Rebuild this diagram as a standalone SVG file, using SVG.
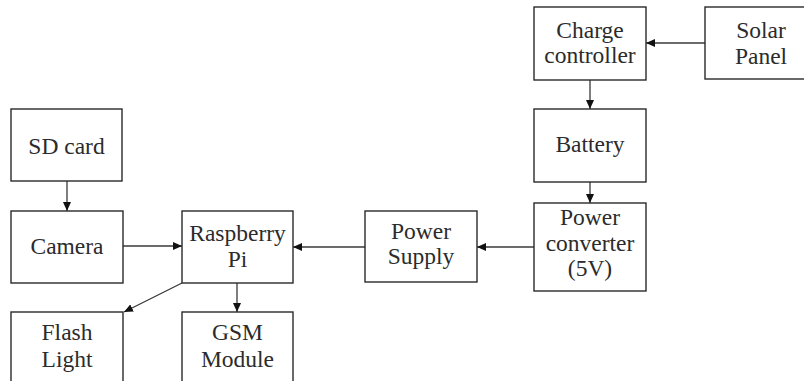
<svg xmlns="http://www.w3.org/2000/svg" width="804" height="381" viewBox="0 0 804 381">
<style>
.box{fill:#fff;stroke:#2a2a2a;stroke-width:1.4}
.t{font-family:'Liberation Serif','Times New Roman','DejaVu Serif',serif;font-size:23.5px;fill:#2b2b2b;text-anchor:middle}
.c{stroke:#3a3a3a;stroke-width:1.3;fill:none;marker-end:url(#ah)}
</style>
<defs>
<marker id="ah" markerUnits="userSpaceOnUse" markerWidth="10" markerHeight="8" refX="9" refY="4" orient="auto">
<path d="M0,0 L9,4 L0,8 z" fill="#111"/>
</marker>
</defs>
<rect width="804" height="381" fill="#fff"/>
<g id="connectors">
<line class="c" x1="67" y1="181" x2="67" y2="211"/>
<line class="c" x1="123" y1="246" x2="182" y2="246"/>
<line class="c" x1="237" y1="283" x2="237" y2="312"/>
<line class="c" x1="182" y1="283" x2="124" y2="312"/>
<line class="c" x1="365" y1="247" x2="293" y2="247"/>
<line class="c" x1="534" y1="247" x2="477" y2="247"/>
<line class="c" x1="705" y1="43" x2="646" y2="43"/>
<line class="c" x1="590" y1="80" x2="590" y2="109"/>
<line class="c" x1="590" y1="182" x2="590" y2="203"/>
</g>
<g id="sdcard"><rect class="box" x="11" y="109" width="111" height="72"/><text class="t" x="66.5" y="153.5">SD card</text></g>
<g id="camera"><rect class="box" x="11" y="211" width="112" height="72"/><text class="t" x="67" y="254">Camera</text></g>
<g id="raspberrypi"><rect class="box" x="182" y="211" width="111" height="72"/><text class="t" x="237.5" y="240.5">Raspberry</text><text class="t" x="237.5" y="266.5">Pi</text></g>
<g id="flashlight"><rect class="box" x="11" y="312" width="112" height="90"/><text class="t" x="67" y="340">Flash</text><text class="t" x="67" y="366.5">Light</text></g>
<g id="gsm"><rect class="box" x="182" y="312" width="111" height="90"/><text class="t" x="237.5" y="340">GSM</text><text class="t" x="237.5" y="366.5">Module</text></g>
<g id="powersupply"><rect class="box" x="365" y="211" width="112" height="71"/><text class="t" x="421" y="239">Power</text><text class="t" x="421" y="264">Supply</text></g>
<g id="powerconverter"><rect class="box" x="534" y="203" width="112" height="88"/><text class="t" x="590" y="225">Power</text><text class="t" x="590" y="251">converter</text><text class="t" x="590" y="276">(5V)</text></g>
<g id="battery"><rect class="box" x="534" y="109" width="112" height="73"/><text class="t" x="590" y="151.5">Battery</text></g>
<g id="chargecontroller"><rect class="box" x="534" y="7" width="112" height="73"/><text class="t" x="590" y="38">Charge</text><text class="t" x="590" y="63">controller</text></g>
<g id="solarpanel"><rect class="box" x="705" y="7" width="112" height="72"/><text class="t" x="761" y="37.5">Solar</text><text class="t" x="761" y="64">Panel</text></g>
</svg>
